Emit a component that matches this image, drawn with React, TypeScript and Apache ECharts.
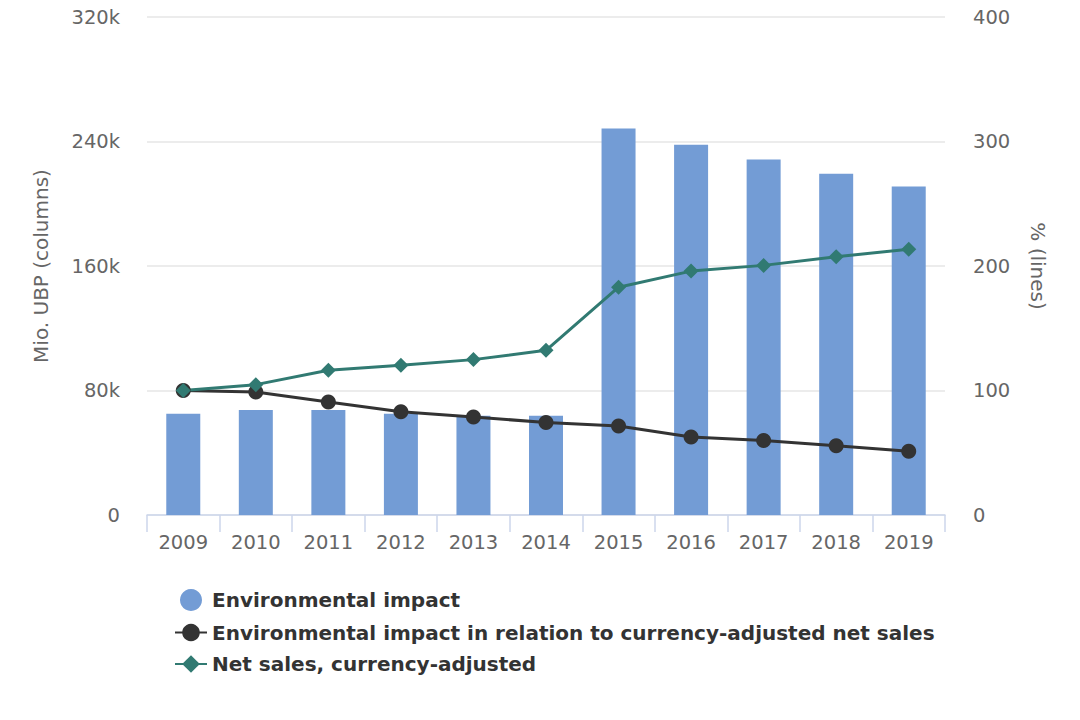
import React, { useEffect, useRef } from "react";
import * as echarts from "echarts";

const years = ["2009", "2010", "2011", "2012", "2013", "2014", "2015", "2016", "2017", "2018", "2019"];
const envImpact = [65100, 67400, 67400, 65100, 63800, 63800, 248400, 237900, 228500, 219200, 211100];
const impactRelative = [100, 98.8, 90.7, 82.9, 78.7, 74.3, 71.4, 62.6, 59.8, 55.6, 51.3];
const netSales = [100, 104.7, 116.2, 120.2, 124.8, 132.3, 183.0, 195.9, 200.5, 207.5, 213.4];

const leftTicks = [0, 80000, 160000, 240000, 320000];
const rightTicks = [0, 100, 200, 300, 400];

const FONT = "'DejaVu Sans', Verdana, sans-serif";
const LEGEND_FONT = "'DejaVu Sans', sans-serif";

export default function App() {
  const ref = useRef<HTMLDivElement>(null);
  useEffect(() => {
    if (!ref.current) return;
    const chart = echarts.init(ref.current, undefined, { renderer: "svg" });
    chart.setOption({
      animation: false,
      grid: { left: 147, right: 135, top: 17, bottom: 205, containLabel: false },
      legend: {
        orient: "vertical",
        left: 169,
        top: 584,
        itemGap: 11.5,
        itemWidth: 32,
        itemHeight: 22,
        textStyle: { fontSize: 20, fontWeight: "bold", color: "#333333", fontFamily: LEGEND_FONT },
        data: [
          { name: "Environmental impact", icon: "circle" },
          { name: "Environmental impact in relation to currency-adjusted net sales" },
          { name: "Net sales, currency-adjusted" },
        ],
      },
      xAxis: {
        type: "category",
        data: years,
        boundaryGap: true,
        axisLine: { show: true, lineStyle: { color: "#ccd6eb", width: 1.5 } },
        axisTick: { show: true, length: 17, alignWithLabel: false, lineStyle: { color: "#ccd6eb", width: 1.5 } },
        axisLabel: { color: "#666666", fontSize: 19.5, fontFamily: FONT, margin: 17 },
      },
      yAxis: [
        {
          type: "value",
          min: leftTicks[0],
          max: leftTicks[leftTicks.length - 1],
          interval: 80000,
          name: "Mio. UBP (columns)",
          nameLocation: "middle",
          nameGap: 96,
          nameTextStyle: { color: "#666666", fontSize: 20, fontFamily: FONT },
          axisLine: { show: false },
          axisTick: { show: false },
          splitLine: { lineStyle: { color: "#e6e6e6", width: 1.5 } },
          axisLabel: {
            color: "#666666",
            fontSize: 19.5,
            fontFamily: FONT,
            margin: 27,
            formatter: (v: number) => (v === 0 ? "0" : v / 1000 + "k"),
          },
        },
        {
          type: "value",
          min: rightTicks[0],
          max: rightTicks[rightTicks.length - 1],
          interval: 100,
          position: "right",
          name: "% (lines)",
          nameLocation: "middle",
          nameGap: 83,
          nameRotate: -90,
          nameTextStyle: { color: "#666666", fontSize: 20, fontFamily: FONT },
          axisLine: { show: false },
          axisTick: { show: false },
          splitLine: { show: false },
          axisLabel: { color: "#666666", fontSize: 19.5, fontFamily: FONT, margin: 28 },
        },
      ],
      series: [
        {
          name: "Environmental impact",
          type: "bar",
          data: envImpact,
          yAxisIndex: 0,
          barWidth: 34,
          itemStyle: { color: "#739cd5" },
        },
        {
          name: "Environmental impact in relation to currency-adjusted net sales",
          type: "line",
          data: impactRelative,
          yAxisIndex: 1,
          symbol: "circle",
          symbolSize: 15,
          lineStyle: { color: "#333333", width: 3 },
          itemStyle: { color: "#333333" },
        },
        {
          name: "Net sales, currency-adjusted",
          type: "line",
          data: netSales,
          yAxisIndex: 1,
          symbol: "diamond",
          symbolSize: 15,
          lineStyle: { color: "#317a72", width: 3 },
          itemStyle: { color: "#317a72" },
        },
      ],
    });
    return () => chart.dispose();
  }, []);
  return <div ref={ref} style={{ width: 1080, height: 720, margin: -8 }} />;
}
